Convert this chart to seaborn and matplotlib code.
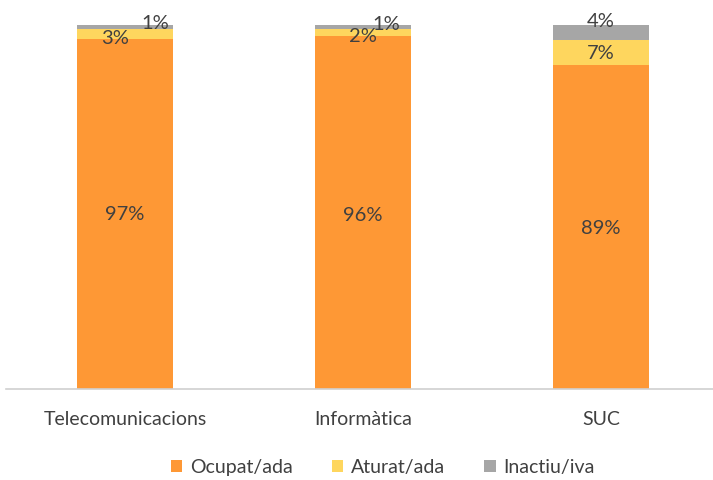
import numpy as np
import matplotlib
matplotlib.use("Agg")
import matplotlib.pyplot as plt
from matplotlib.patches import Patch
import seaborn as sns

# Dades (percentatges llegits del gràfic)
categories = ["Telecomunicacions", "Informàtica", "SUC"]
series_names = ["Ocupat/ada", "Aturat/ada", "Inactiu/iva"]
ocupat = [97, 96, 89]
aturat = [3, 2, 7]
inactiu = [1, 1, 4]

colors = ["#FE9835", "#FED65E", "#A6A6A6"]
text_color = "#404040"

sns.set_theme(style="white")
plt.rcParams["font.family"] = ["Lato", "DejaVu Sans"]

fig = plt.figure(figsize=(7.13, 4.80), dpi=100)
ax = fig.add_axes([0.0084, 0.19, 1.0014, 0.758])

series = [np.array(ocupat, float), np.array(aturat, float), np.array(inactiu, float)]
total = series[0] + series[1] + series[2]
# normalitzar a 100 (els arrodoniments no sumen exactament 100)
heights = [s / total * 100 for s in series]

bottom = np.zeros(len(categories))
for h, c in zip(heights, colors):
    sns.barplot(x=categories, y=h, bottom=bottom, color=c, width=0.4,
                saturation=1, ax=ax, linewidth=0)
    bottom = bottom + h

# etiquetes de dades (desplaçaments en punts per als segments petits)
offsets = {
    (0, 0): (0, 0), (0, 1): (-7, -3), (0, 2): (22, 2),
    (1, 0): (0, -2), (1, 1): (0, -3), (1, 2): (17, 2),
    (2, 0): (0, -1), (2, 1): (0, -1), (2, 2): (0, 8),
}
for i in range(len(categories)):
    base = 0
    for j, s in enumerate(series):
        h = heights[j][i]
        dx, dy = offsets[(i, j)]
        ax.annotate(f"{int(s[i])}%", (i, base + h / 2), xytext=(dx, dy),
                    textcoords="offset points", ha="center", va="center",
                    fontsize=14.5, color=text_color)
        base += h

ax.set_xlim(-0.5, 2.5)
ax.set_ylim(0, 100)
ax.set_yticks([])
ax.set_ylabel("")
for side in ["top", "right", "left"]:
    ax.spines[side].set_visible(False)
ax.spines["bottom"].set_color("#D0D0D0")
ax.spines["bottom"].set_linewidth(1.2)
ax.tick_params(axis="x", length=0, pad=16, labelsize=14, labelcolor=text_color)

handles = [Patch(facecolor=c, edgecolor="none", label=n) for c, n in zip(colors, series_names)]
fig.legend(handles=handles, loc="center", bbox_to_anchor=(0.537, 0.027), ncol=3,
           frameon=False, fontsize=14, handlelength=0.6, handleheight=0.6,
           handletextpad=0.4, columnspacing=2.0, labelcolor=text_color)

fig.savefig("out.png", dpi=100)
